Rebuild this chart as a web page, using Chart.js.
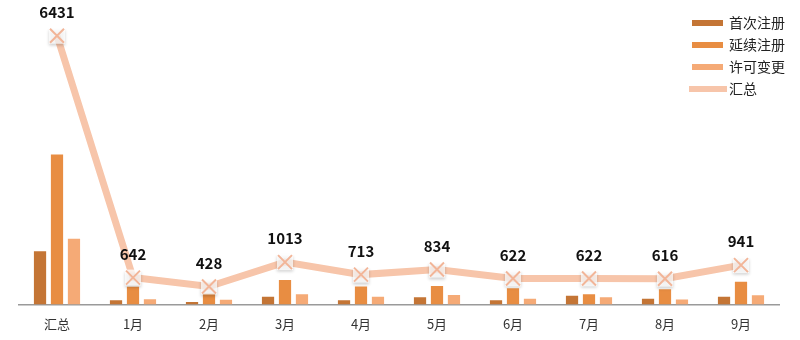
<!DOCTYPE html>
<html>
<head>
<meta charset="utf-8">
<script src="https://cdn.jsdelivr.net/npm/chart.js@4/dist/chart.umd.min.js"></script>
<style>
  html, body { margin: 0; padding: 0; background: #fff; }
  #wrap { width: 800px; height: 340px; }
</style>
</head>
<body>
<div id="wrap"><canvas id="c" width="800" height="340"></canvas></div>
<script>
const categories = ['汇总', '1月', '2月', '3月', '4月', '5月', '6月', '7月', '8月', '9月'];
const firstReg   = [1270, 100,  55, 185, 100, 173, 101, 208, 137, 183];
const renewReg   = [3590, 420, 260, 585, 430, 438, 387, 242, 360, 541];
const changeReg  = [1571, 122, 113, 243, 183, 223, 134, 172, 119, 217];
const totals     = [6431, 642, 428, 1013, 713, 834, 622, 622, 616, 941];

const FONT = '"Noto Sans CJK SC", "Noto Sans", sans-serif';

// legend in the top right corner, drawn over the plot
const cornerLegend = {
  id: 'cornerLegend',
  afterDraw(chart) {
    const ctx = chart.ctx;
    const items = chart.data.datasets;
    ctx.save();
    ctx.font = '14px ' + FONT;
    ctx.textBaseline = 'middle';
    items.forEach((ds, i) => {
      const y = 23 + i * 22;
      ctx.fillStyle = ds.type === 'line' ? ds.borderColor : ds.backgroundColor;
      if (ds.type === 'line') {
        ctx.fillRect(689, y - 3, 38, 6);
      } else {
        ctx.fillRect(692, y - 3, 31, 6);
      }
      ctx.fillStyle = '#222';
      ctx.fillText(ds.label, 729, y);
    });
    ctx.restore();
  }
};

// boxed cross markers and total labels above the line points
const totalLabels = {
  id: 'totalLabels',
  afterDatasetsDraw(chart) {
    const ctx = chart.ctx;
    const meta = chart.getDatasetMeta(3);
    ctx.save();
    meta.data.forEach((pt) => {
      ctx.save();
      ctx.shadowColor = 'rgba(0,0,0,0.25)';
      ctx.shadowBlur = 3;
      ctx.shadowOffsetY = 2;
      ctx.fillStyle = 'rgba(255,255,255,0.75)';
      ctx.fillRect(pt.x - 8, pt.y - 8, 16, 16);
      ctx.restore();
      ctx.strokeStyle = '#F2B598';
      ctx.lineWidth = 2;
      ctx.beginPath();
      ctx.moveTo(pt.x - 7, pt.y - 7); ctx.lineTo(pt.x + 7, pt.y + 7);
      ctx.moveTo(pt.x + 7, pt.y - 7); ctx.lineTo(pt.x - 7, pt.y + 7);
      ctx.stroke();
    });
    ctx.font = 'bold 15px ' + FONT;
    ctx.fillStyle = '#111';
    ctx.textAlign = 'center';
    ctx.textBaseline = 'bottom';
    meta.data.forEach((pt, i) => {
      ctx.fillText(String(totals[i]), pt.x, pt.y - 16);
    });
    ctx.restore();
  }
};

new Chart(document.getElementById('c'), {
  data: {
    labels: categories,
    datasets: [
      { type: 'bar', label: '首次注册', data: firstReg,  backgroundColor: '#C47535', order: 2,
        barPercentage: 0.72, categoryPercentage: 0.67 },
      { type: 'bar', label: '延续注册', data: renewReg,  backgroundColor: '#E88D42', order: 2,
        barPercentage: 0.72, categoryPercentage: 0.67 },
      { type: 'bar', label: '许可变更', data: changeReg, backgroundColor: '#F5AA76', order: 2,
        barPercentage: 0.72, categoryPercentage: 0.67 },
      { type: 'line', label: '汇总', data: totals, borderColor: '#F7C5AA', borderWidth: 7,
        tension: 0, order: 1, pointRadius: 0 }
    ]
  },
  options: {
    responsive: false,
    animation: false,
    layout: { padding: { left: 19, right: 21, top: 12, bottom: -4 } },
    plugins: {
      legend: { display: false },
      tooltip: { enabled: false }
    },
    scales: {
      x: {
        grid: { display: false, drawTicks: false },
        border: { color: '#9a9a9a', width: 1.5 },
        ticks: { color: '#333', font: { family: FONT, size: 13 }, padding: 12 }
      },
      y: {
        display: false,
        min: 0,
        max: 7000
      }
    }
  },
  plugins: [totalLabels, cornerLegend]
});
</script>
</body>
</html>
